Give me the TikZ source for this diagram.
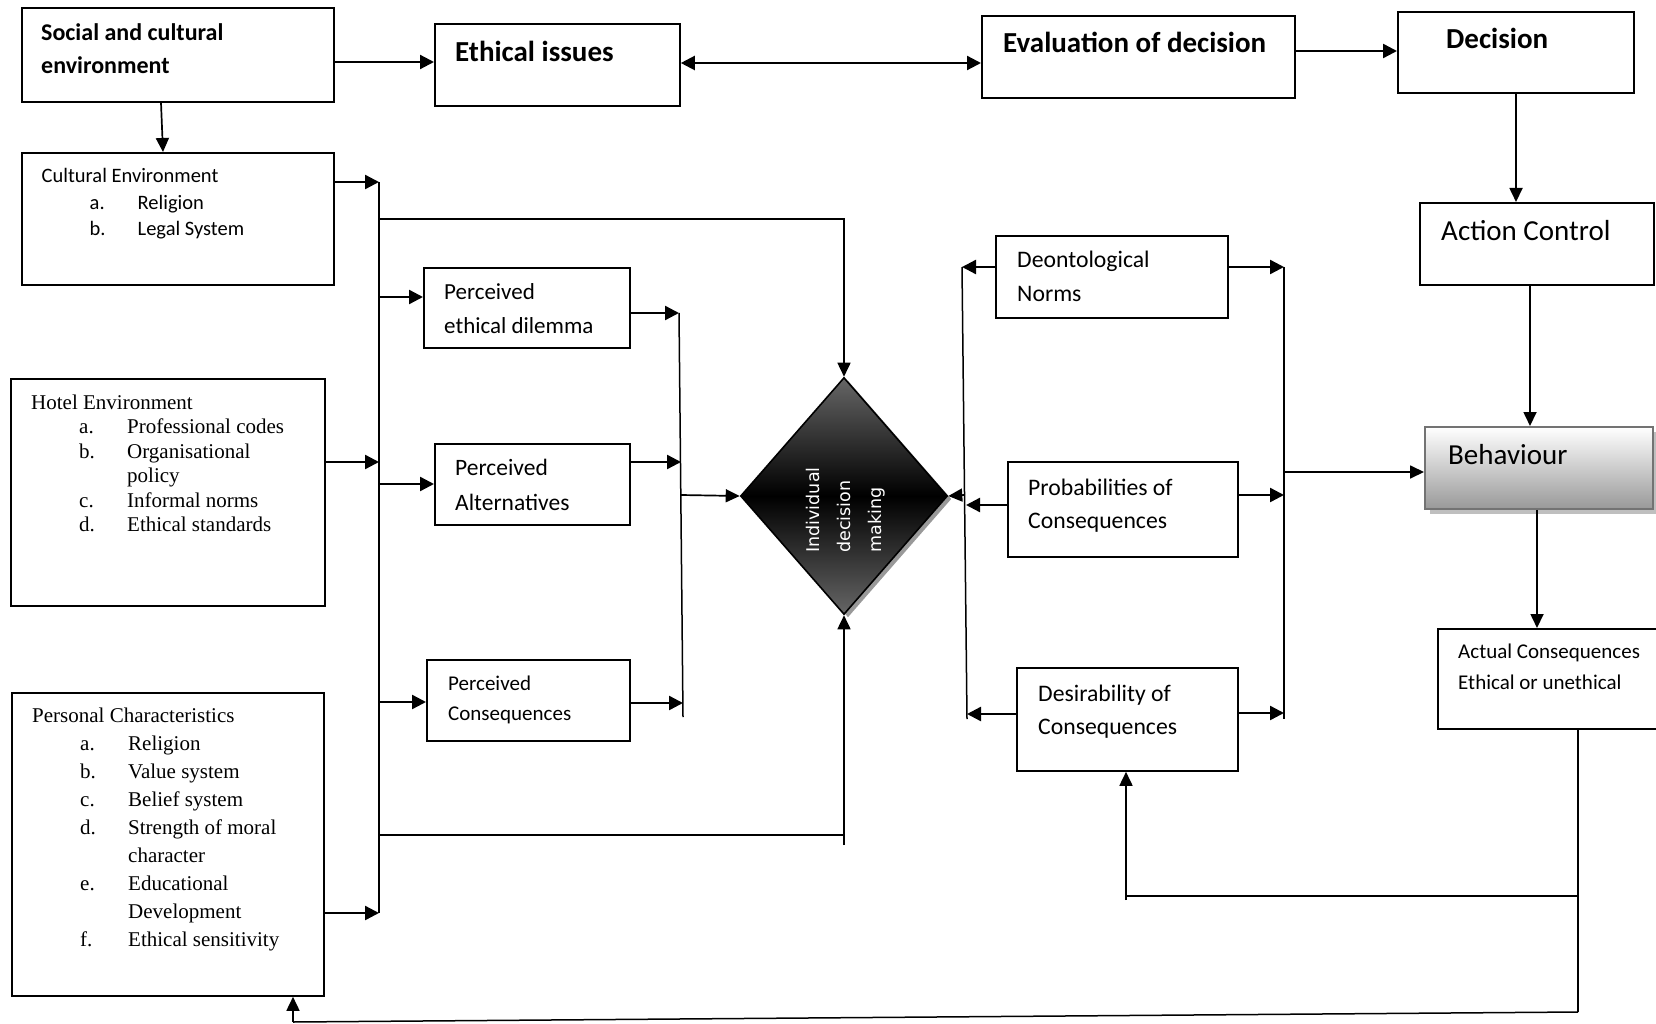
\documentclass[tikz,border=0pt]{standalone}
\usepackage{fontspec}
\setmainfont{Carlito}
\newfontfamily\timesfont{Liberation Serif}
\newfontfamily\verdfont{DejaVu Sans}
\usepackage{tikz}
\usetikzlibrary{arrows.meta,shapes.geometric,shadows}
\tikzstyle{box}=[draw,line width=1.8pt,rectangle,anchor=north west,inner sep=0pt]
% base west of a text block is the baseline of its last line
\tikzstyle{txt}=[anchor=base west,align=left,inner sep=0pt]
\tikzstyle{head}=[font=\fontsize{29}{35}\selectfont\bfseries]
\tikzstyle{arr}=[-{Triangle[length=14pt,width=14pt]},line width=2.4pt]
\tikzstyle{dblarr}=[{Triangle[length=14pt,width=14pt]}-{Triangle[length=14pt,width=14pt]},line width=2.2pt]
\tikzstyle{thinarr}=[-{Triangle[length=14pt,width=13pt]},line width=1.7pt]
\tikzstyle{bus}=[line width=1.5pt]
\newcommand{\letteritem}[2]{\hspace*{48pt}\makebox[48pt][l]{#1}#2}
\newcommand{\carryon}[1]{\hspace*{96pt}#1}

\begin{document}
\begin{tikzpicture}[x=1pt,y=-1pt]
\useasboundingbox (0,0) rectangle (1656,1024);

% top row
\node[box,minimum width=312pt,minimum height=94pt] (social) at (21,7) {};
\node[txt,font=\fontsize{24}{33}\selectfont\bfseries] (social-t) at ([shift={(20,67)}]social.north west) {Social and cultural\\environment};
\node[box,minimum width=245pt,minimum height=82pt] (ethic) at (434,23) {};
\node[txt,head] (ethic-t) at ([shift={(21,39)}]ethic.north west) {Ethical issues};
\node[box,minimum width=313pt,minimum height=82pt] (evalu) at (981,15) {};
\node[txt,head] (evalu-t) at ([shift={(22,38)}]evalu.north west) {Evaluation of decision};
\node[box,minimum width=236pt,minimum height=81pt] (dec) at (1397,11) {};
\node[txt,head] (dec-t) at ([shift={(49,38)}]dec.north west) {Decision};

% left column
\node[box,minimum width=312pt,minimum height=132pt] (cult) at (21,152) {};
\node[txt,font=\fontsize{20.5}{26.5}\selectfont] (cult-t) at ([shift={(20.5,84)}]cult.north west)
  {Cultural Environment\\\letteritem{a.}{Religion}\\\letteritem{b.}{Legal System}};
\node[box,minimum width=314pt,minimum height=227pt] (hotel) at (10,378) {};
\node[txt,font=\timesfont\fontsize{21}{24.5}\selectfont] (hotel-t) at ([shift={(21,153.5)}]hotel.north west)
  {Hotel Environment\\\letteritem{a.}{Professional codes}\\\letteritem{b.}{Organisational}\\\carryon{policy}\\
   \letteritem{c.}{Informal norms}\\\letteritem{d.}{Ethical standards}};
\node[box,minimum width=312pt,minimum height=303pt] (pers) at (11,692) {};
\node[txt,font=\timesfont\fontsize{21}{28}\selectfont] (pers-t) at ([shift={(21,254)}]pers.north west)
  {Personal Characteristics\\\letteritem{a.}{Religion}\\\letteritem{b.}{Value system}\\\letteritem{c.}{Belief system}\\
   \letteritem{d.}{Strength of moral}\\\carryon{character}\\\letteritem{e.}{Educational}\\\carryon{Development}\\
   \letteritem{f.}{Ethical sensitivity}};

% perceived boxes
\node[box,minimum width=206pt,minimum height=80pt] (dilem) at (423,267) {};
\node[txt,font=\fontsize{23}{34}\selectfont] (dilem-t) at ([shift={(21,66)}]dilem.north west) {Perceived\\ethical dilemma};
\node[box,minimum width=195pt,minimum height=81pt] (alter) at (434,443) {};
\node[txt,font=\fontsize{23.5}{35}\selectfont] (alter-t) at ([shift={(21,67)}]alter.north west) {Perceived\\Alternatives};
\node[box,minimum width=203pt,minimum height=81pt] (pcons) at (426,659) {};
\node[txt,font=\fontsize{21}{30}\selectfont] (pcons-t) at ([shift={(22,61)}]pcons.north west) {Perceived\\Consequences};

% decision diamond
\node[diamond,draw,line width=1.6pt,minimum width=207pt,minimum height=237pt,inner sep=0pt,
  top color=black!60,bottom color=black!60,middle color=black,
  drop shadow={shadow xshift=4pt,shadow yshift=-3pt,fill=black!40,opacity=1}] (idm) at (844,496) {};
\node[rotate=90,align=left,text=white,inner sep=0pt,font=\verdfont\fontsize{17.5}{31}\selectfont] (idm-t)
  at ([shift={(2,14)}]idm.center) {Individual\\decision\\making};

% norms and consequences
\node[box,minimum width=232pt,minimum height=82pt] (deont) at (995,235) {};
\node[txt,font=\fontsize{23.7}{33}\selectfont] (deont-t) at ([shift={(22,66)}]deont.north west) {Deontological\\Norms};
\node[box,minimum width=230pt,minimum height=95pt] (prob) at (1007,461) {};
\node[txt,font=\fontsize{23.7}{33}\selectfont] (prob-t) at ([shift={(21,67)}]prob.north west) {Probabilities of\\Consequences};
\node[box,minimum width=221pt,minimum height=103pt] (desir) at (1016,667) {};
\node[txt,font=\fontsize{23.7}{33}\selectfont] (desir-t) at ([shift={(22,67)}]desir.north west) {Desirability of\\Consequences};

% right column
\node[box,minimum width=234pt,minimum height=82pt] (act) at (1419,202) {};
\node[txt,font=\fontsize{29}{35}\selectfont] (act-t) at ([shift={(22,39)}]act.north west) {Action Control};
\node[box,draw=black!55,minimum width=228pt,minimum height=82pt,top color=white,bottom color=black!40,
  drop shadow={shadow xshift=5pt,shadow yshift=-5pt,fill=black!25,opacity=1}] (behav) at (1424,426) {};
\node[txt,font=\fontsize{29}{35}\selectfont] (behav-t) at ([shift={(24,38)}]behav.north west) {Behaviour};
\node[box,minimum width=240pt,minimum height=100pt] (actual) at (1437,628) {};
\node[txt,font=\fontsize{21}{31}\selectfont] (actual-t) at ([shift={(21,61)}]actual.north west) {Actual Consequences\\Ethical or unethical};

% top row arrows
\draw[arr,line width=2.2pt] (social.east |- 0,62) -- (ethic.west |- 0,62);
\draw[dblarr] (ethic.east |- 0,63) -- (evalu.west |- 0,63);
\draw[arr] (evalu.east |- 0,51) -- (dec.west |- 0,51);
\draw[thinarr] (social.south -| 161,0) -- (cult.north -| 163,0);
\draw[thinarr] (dec.south -| 1516,0) -- (act.north -| 1516,0);
\draw[thinarr] (act.south -| 1530,0) -- (behav.north -| 1530,0);
\draw[thinarr] (behav.south -| 1537,0) -- (actual.north -| 1537,0);

% left bus
\coordinate (lbtop) at (379,182);
\coordinate (lbbot) at (379,913);
\draw[bus] (lbtop) -- (lbbot);
\draw[arr] (cult.east |- lbtop) -- (lbtop);
\draw[arr] (hotel.east |- 0,462) -- (lbtop |- 0,462);
\draw[arr] (pers.east |- lbbot) -- (lbbot);
\draw[arr] (lbtop |- 0,297) -- (dilem.west |- 0,297);
\draw[arr] (lbtop |- 0,484) -- (alter.west |- 0,484);
\draw[arr] (lbtop |- 0,702) -- (pcons.west |- 0,702);
\draw[thinarr] (lbtop |- 0,219) -| (idm.north);
\draw[bus] (lbtop |- 0,835) -- (idm.south |- 0,835);
\draw[thinarr] (idm.south |- 0,845) -- (idm.south);

% collector into the diamond
\coordinate (mctop) at (679,313);
\coordinate (mcbot) at (683,717);
\draw[bus] (mctop) -- (mcbot);
\draw[arr] (dilem.east |- mctop) -- (mctop);
\draw[arr] (alter.east |- 0,462) -- (681,462);
\draw[arr] (pcons.east |- 0,703) -- (683,703);
\draw[thinarr] (681,495) -- (idm.west);

% buses round the norms
\coordinate (rltop) at (962,267);
\coordinate (rlbot) at (967,719);
\draw[bus] (rltop) -- (rlbot);
\draw[arr] (deont.west |- rltop) -- (rltop);
\draw[arr] (prob.west |- 0,505) -- (966,505);
\draw[arr] (desir.west |- 0,714) -- (967,714);
\draw[thinarr] (964,495) -- (idm.east);
\coordinate (rrtop) at (1284,267);
\coordinate (rrbot) at (1284,719);
\draw[bus] (rrtop) -- (rrbot);
\draw[arr] (deont.east |- rrtop) -- (rrtop);
\draw[arr] (prob.east |- 0,495) -- (rrtop |- 0,495);
\draw[arr] (desir.east |- 0,713) -- (rrtop |- 0,713);
\draw[thinarr] (rrtop |- 0,472) -- (behav.west |- 0,472);

% feedback
\coordinate (fbmid) at (1578,896);
\coordinate (fbbot) at (1578,1012);
\draw[bus] (actual.south -| fbmid) -- (fbbot);
\draw[bus] (fbmid) -- (1126,896);
\draw[thinarr] (1126,900) -- (desir.south -| 1126,0);
\draw[bus] (fbbot) -- (293,1022);
\draw[thinarr] (293,1022) -- (pers.south -| 293,0);
\end{tikzpicture}
\end{document}
